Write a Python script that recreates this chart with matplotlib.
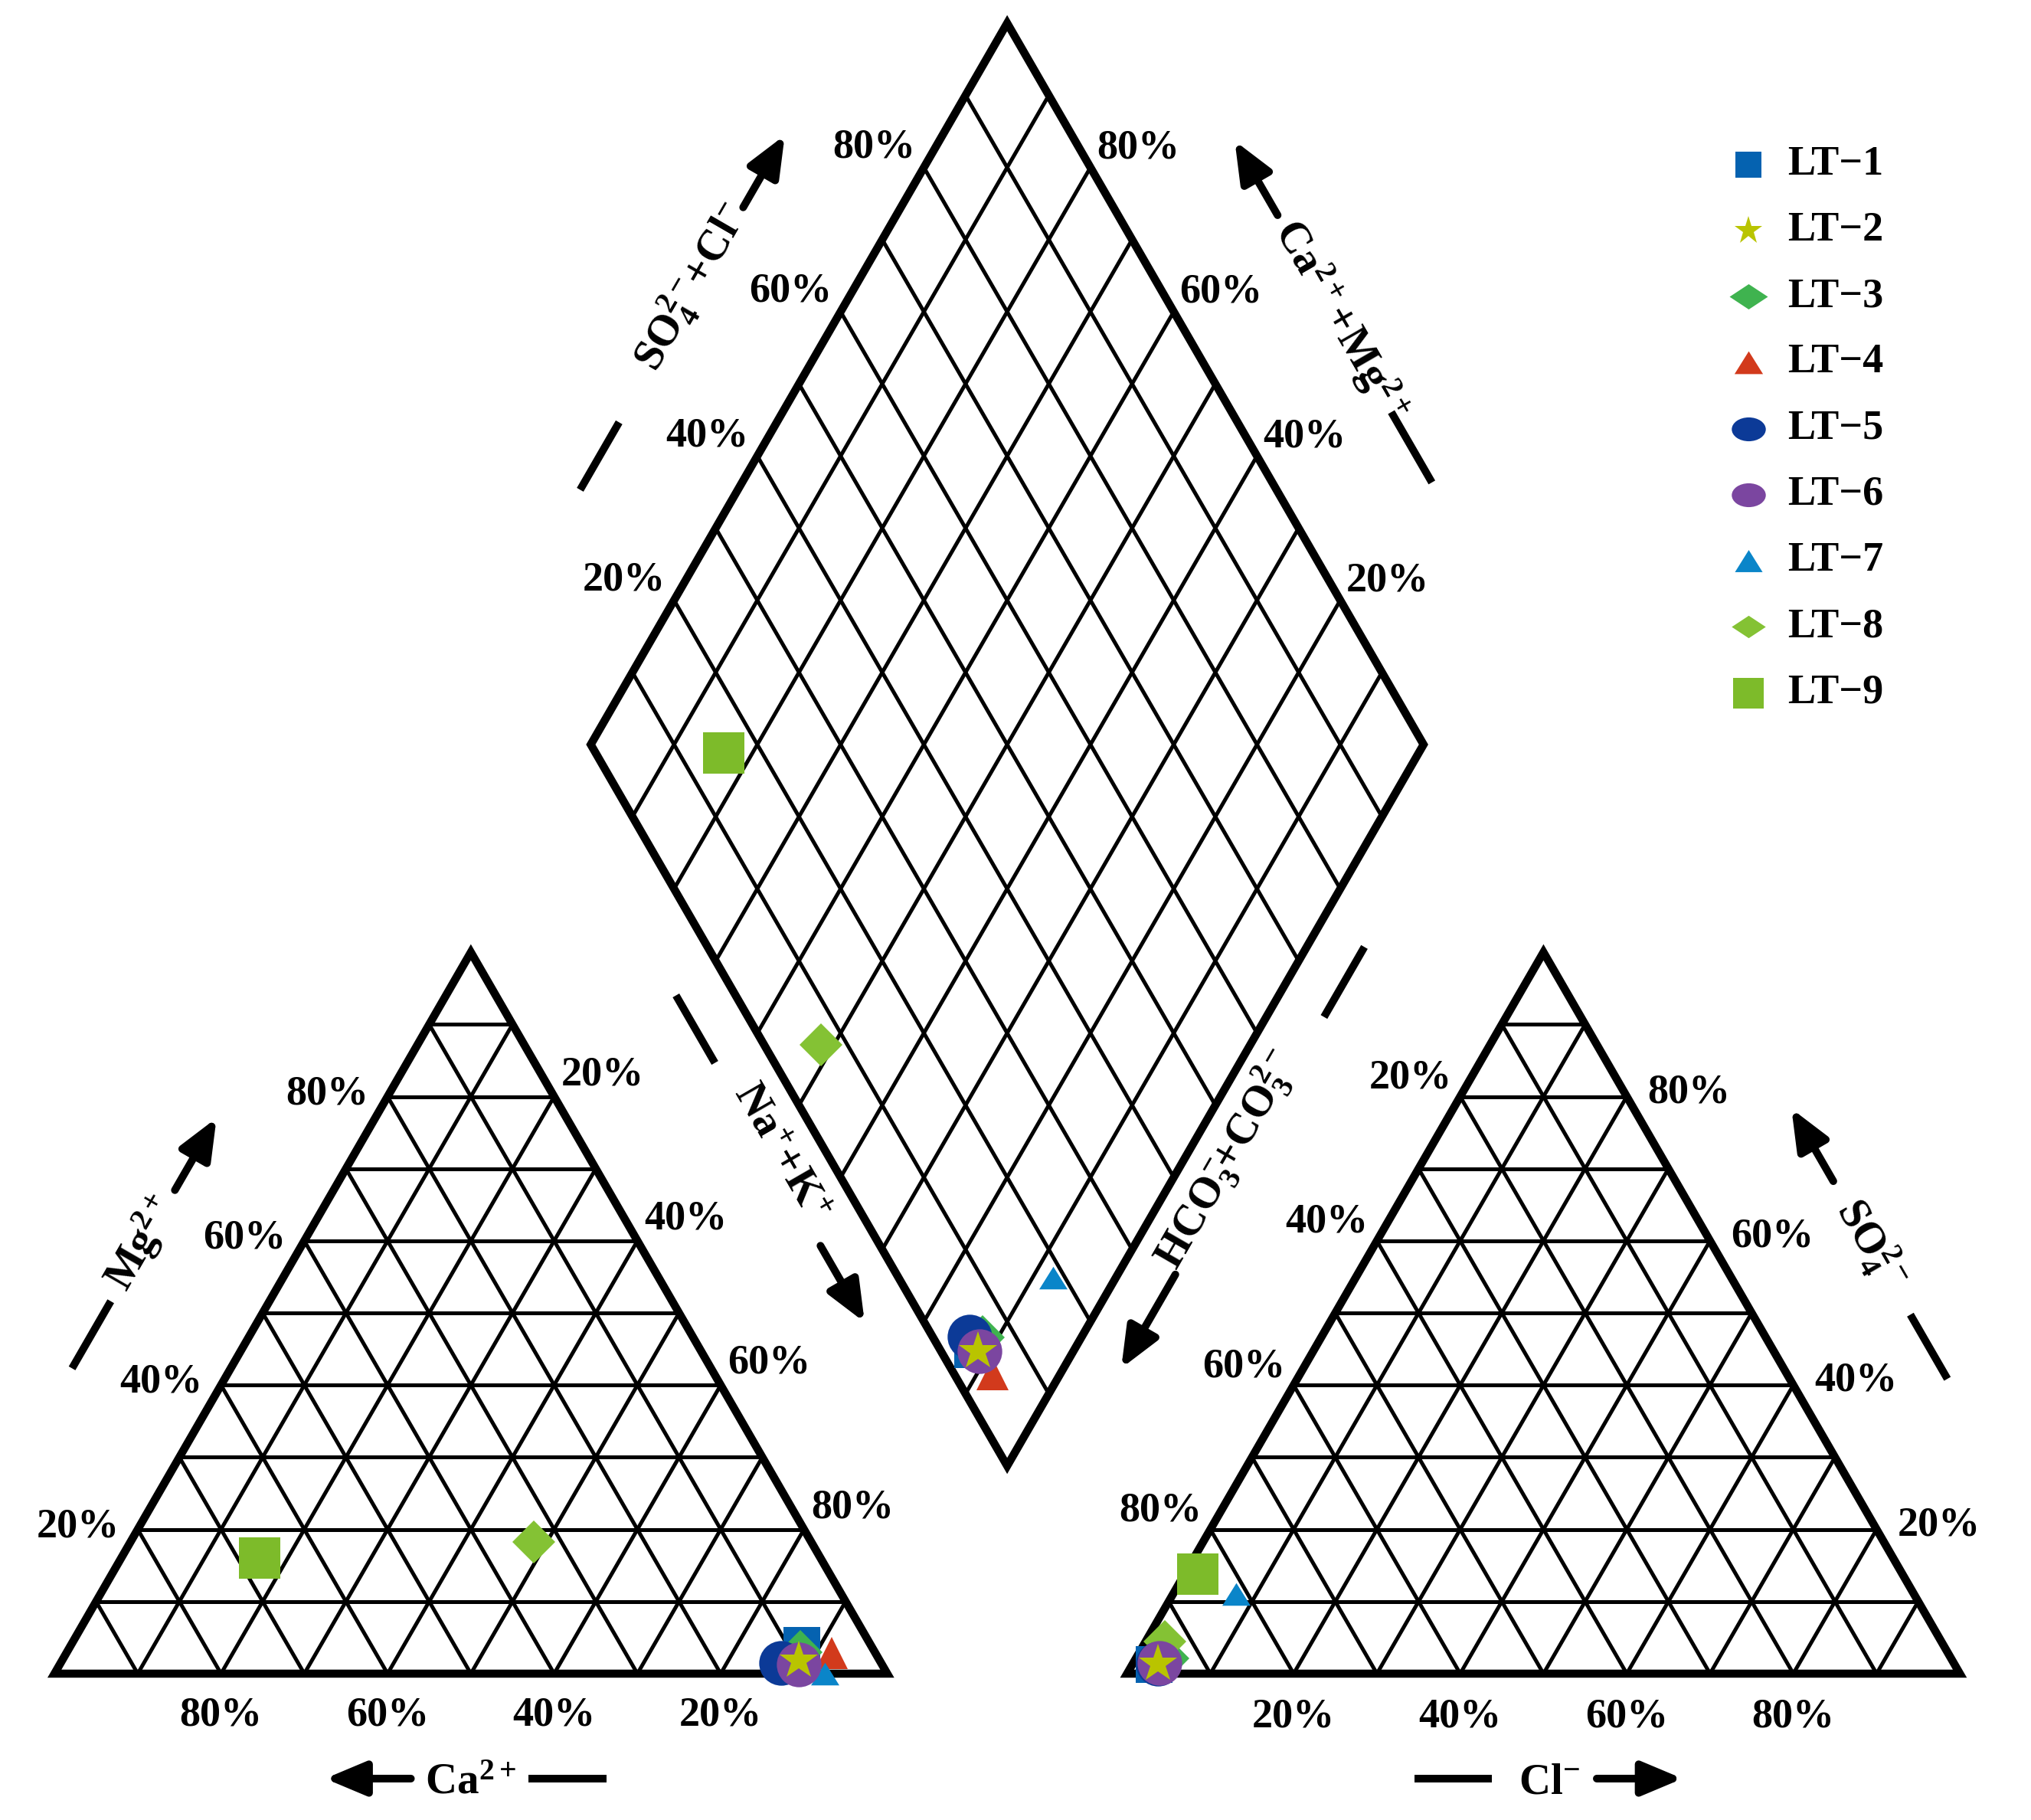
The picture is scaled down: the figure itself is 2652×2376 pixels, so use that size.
import numpy as np
import matplotlib.pyplot as plt
from matplotlib.path import Path
from matplotlib.patches import Polygon

plt.rcParams['font.family'] = ['Liberation Serif', 'DejaVu Serif']
plt.rcParams['font.weight'] = 'bold'
plt.rcParams['mathtext.fontset'] = 'custom'
plt.rcParams['mathtext.rm'] = 'Liberation Serif:bold'
plt.rcParams['mathtext.it'] = 'Liberation Serif:italic:bold'
plt.rcParams['mathtext.bf'] = 'Liberation Serif:bold'
plt.rcParams['mathtext.default'] = 'rm'

# sample names and ion percentages (meq %)
samples = ['LT\u22121', 'LT\u22122', 'LT\u22123', 'LT\u22124', 'LT\u22125',
           'LT\u22126', 'LT\u22127', 'LT\u22128', 'LT\u22129']
ca = np.array([8.3, 9.7, 8.9, 5.2, 12.0, 10.0, 7.5, 33.3, 67.4])
mg = np.array([3.9, 1.8, 3.0, 2.9, 1.5, 1.3, 0.0, 18.3, 16.0])
nak = np.array([87.8, 88.5, 88.1, 91.9, 86.5, 88.7, 92.5, 48.4, 16.6])
hco3 = np.array([96.1, 95.6, 94.1, 95.4, 95.6, 95.4, 81.4, 93.2, 84.6])
so4 = np.array([1.3, 1.4, 2.1, 1.5, 1.4, 1.5, 11.0, 4.5, 13.8])
cl = np.array([2.6, 3.0, 3.8, 3.1, 3.0, 3.1, 7.6, 2.3, 1.6])

ticks = [20, 40, 60, 80]

# styles
colors = ['#0562b0', '#b9c400', '#3fb34f', '#d23a1c', '#0c3a97',
          '#7b46a0', '#0a85c9', '#84c234', '#7dbb2a']
tri_flat = Path([(0, 0.8), (-1, -0.8), (1, -0.8), (0, 0.8)],
                [Path.MOVETO, Path.LINETO, Path.LINETO, Path.CLOSEPOLY])
dia_flat = Path([(-1, 0), (0, 0.66), (1, 0), (0, -0.66), (-1, 0)],
                [Path.MOVETO, Path.LINETO, Path.LINETO, Path.LINETO, Path.CLOSEPOLY])
ell = Path.unit_circle()
ell = Path(ell.vertices * [1, 0.7], ell.codes)
markers = ['s', '*', 'D', '^', 'o', 'o', tri_flat, 'D', 's']
sizes = [17, 19, 14.8, 15, 21, 21, 13.3, 14.5, 19.5]
order = [3, 11, 4, 5, 9, 10, 6, 7, 8]
leg_markers = ['s', '*', dia_flat, tri_flat, ell, ell, tri_flat, dia_flat, 's']
leg_sizes = [12, 14, 18, 13.4, 16, 16, 13, 16, 14.5]

H = np.sqrt(3) / 2
gap = 0.288
xr = 1 + gap
B = np.array([1 + gap / 2, gap * H])
vL = np.array([-0.5, H])
vR = np.array([0.5, H])


def cation_xy(a, b, c):
    t = a + b + c
    return c / t + 0.5 * b / t, H * b / t


def anion_xy(a, b, c):
    t = a + b + c
    return xr + c / t + 0.5 * b / t, H * b / t


fig = plt.figure(figsize=(13.26, 11.88), dpi=200)
ax = fig.add_axes([0, 0, 1, 1])
ax.set_xlim(-0.0653, 2.3733)
ax.set_ylim(-0.1757, 2.0093)
ax.set_aspect('equal')
ax.axis('off')

glw = 1.8
olw = 3.8
# triangle grids and outlines
for x0 in [0, xr]:
    for k in range(1, 10):
        t = k / 10
        ax.plot([x0 + t / 2, x0 + 1 - t / 2], [t * H, t * H], color='k', lw=glw, zorder=1)
        ax.plot([x0 + t, x0 + t + (1 - t) / 2], [0, (1 - t) * H], color='k', lw=glw, zorder=1)
        ax.plot([x0 + 1 - t, x0 + (1 - t) / 2], [0, (1 - t) * H], color='k', lw=glw, zorder=1)
    ax.add_patch(Polygon([(x0, 0), (x0 + 1, 0), (x0 + 0.5, H)], closed=True, fill=False,
                         ec='k', lw=olw, joinstyle='miter', zorder=2))

# diamond grid and outline
for k in range(1, 10):
    t = k / 10
    a = B + t * vL
    ax.plot([a[0], a[0] + vR[0]], [a[1], a[1] + vR[1]], color='k', lw=glw, zorder=1)
    a = B + t * vR
    ax.plot([a[0], a[0] + vL[0]], [a[1], a[1] + vL[1]], color='k', lw=glw, zorder=1)
ax.add_patch(Polygon([B, B + vR, B + vL + vR, B + vL], closed=True, fill=False,
                     ec='k', lw=olw, joinstyle='miter', zorder=2))

# percentage labels
fs = 19.5
for v in ticks:
    f = v / 100
    ax.text(1 - f, -0.050, f'{v}%', ha='center', va='center', fontsize=fs)
    ax.text(f / 2 - 0.072, f * H + 0.003, f'{v}%', ha='center', va='center', fontsize=fs)
    ax.text(1 - (1 - f) / 2 + 0.058, (1 - f) * H + 0.026, f'{v}%', ha='center', va='center', fontsize=fs)
    ax.text(xr + f, -0.052, f'{v}%', ha='center', va='center', fontsize=fs)
    ax.text(xr + 1 - f / 2 + 0.075, f * H + 0.005, f'{v}%', ha='center', va='center', fontsize=fs)
    ax.text(xr + (1 - f) / 2 - 0.060, (1 - f) * H + 0.022, f'{v}%', ha='center', va='center', fontsize=fs)
    p = B + vL + f * vR
    ax.text(p[0] - 0.060, p[1] + 0.024, f'{v}%', ha='center', va='center', fontsize=fs)
    p = B + f * vL + vR
    ax.text(p[0] + 0.057, p[1] + 0.023, f'{v}%', ha='center', va='center', fontsize=fs)


def edge_title(M, u, n, text, rot, d, st, dt, dash, arrow):
    M, u, n = np.array(M), np.array(u), np.array(n)
    p = M + st * u + dt * n
    ax.text(p[0], p[1], text, rotation=rot, rotation_mode='anchor',
            ha='center', va='center', fontsize=20.5)
    a = M + dash[0] * u + d * n
    b = M + dash[1] * u + d * n
    ax.plot([a[0], b[0]], [a[1], b[1]], color='k', lw=3.6, solid_capstyle='butt')
    a = M + arrow[0] * u + d * n
    b = M + arrow[1] * u + d * n
    ax.annotate('', xy=b, xytext=a,
                arrowprops=dict(arrowstyle='-|>,head_length=1.0,head_width=0.42',
                                lw=3.6, color='k', shrinkA=0, shrinkB=0,
                                mutation_scale=16))


edge_title((0.25, H / 2), (0.5, H), (-H, 0.5), r'$\mathrm{Mg^{2+}}$', 60,
           0.165, 0, 0.168, (-0.172, -0.079), (0.075, 0.175))
edge_title((0.5, 0), (-1, 0), (0, -1), r'$\mathrm{Ca^{2+}}$', 0,
           0.126, 0, 0.131, (-0.163, -0.069), (0.072, 0.175))
edge_title((xr + 0.5, 0), (1, 0), (0, -1), r'$\mathrm{Cl^{-}}$', 0,
           0.126, 0.007, 0.131, (-0.155, -0.062), (0.064, 0.167))
edge_title((xr + 0.75, H / 2), (-0.5, H), (H, 0.5), r'$\mathrm{SO_4^{2-}}$', -60,
           0.164, 0, 0.166, (-0.186, -0.097), (0.088, 0.1885))
edge_title(B + vL + 0.5 * vR, (0.5, H), (-H, 0.5), r'$\mathrm{SO_4^{2-}\!\!+\!Cl^{-}}$', 60,
           0.164, 0.036, 0.170, (-0.2415, -0.148), (0.150, 0.250))
edge_title(B + 0.5 * vL + vR, (-0.5, H), (H, 0.5), r'$\mathrm{Ca^{2+}\!+\!Mg^{2+}}$', -60,
           0.166, -0.01, 0.168, (-0.2325, -0.135), (0.138, 0.241))
edge_title(B + 0.5 * vL, (0.5, -H), (-H, -0.5), r'$\mathrm{Na^{+}\!+\!K^{+}}$', -60,
           0.062, 0.038, 0.047, (-0.188, -0.0945), (0.159, 0.265))
edge_title(B + 0.5 * vR, (-0.5, -H), (H, -0.5), r'$\mathrm{HCO_3^{-}\!\!+\!CO_3^{2-}}$', 60,
           0.060, 0.05, 0.044, (-0.254, -0.157), (0.20, 0.33))

# sample points in the three fields
for i in range(len(samples)):
    x1, y1 = cation_xy(ca[i], mg[i], nak[i])
    x2, y2 = anion_xy(hco3[i], so4[i], cl[i])
    p = (ca[i] + mg[i]) / (ca[i] + mg[i] + nak[i])
    q = (so4[i] + cl[i]) / (hco3[i] + so4[i] + cl[i])
    x3, y3 = B + p * vL + q * vR
    ax.plot([x1, x2, x3], [y1, y2, y3], linestyle='none', marker=markers[i],
            ms=sizes[i], color=colors[i], mew=0, zorder=order[i])

# legend
ly0 = 1.8118
for i, name in enumerate(samples):
    y = ly0 - i * 0.0793
    ax.plot(2.034, y, linestyle='none', marker=leg_markers[i], ms=leg_sizes[i],
            color=colors[i], mew=0)
    ax.text(2.081, y, name, ha='left', va='center', fontsize=19.5)

fig.savefig('out.png', dpi=200)
